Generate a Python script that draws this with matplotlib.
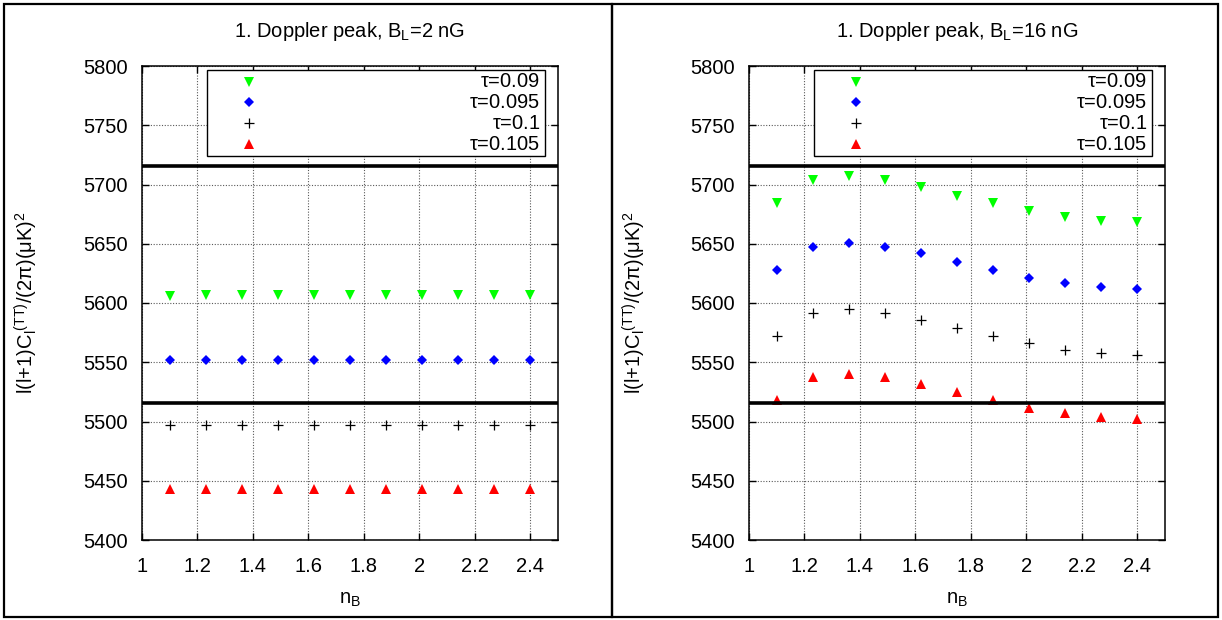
import numpy as np
import matplotlib.pyplot as plt
from matplotlib.patches import Rectangle

plt.rcParams['font.family'] = ['Liberation Sans', 'DejaVu Sans']
plt.rcParams['mathtext.default'] = 'regular'
plt.rcParams['ytick.major.pad'] = 10
plt.rcParams['xtick.major.pad'] = 12

# spectral index of the magnetic field
n_B = [1.1, 1.23, 1.36, 1.49, 1.62, 1.75, 1.88, 2.01, 2.14, 2.27, 2.4]

taus = ['0.09', '0.095', '0.1', '0.105']

# first Doppler peak height, B_L = 2 nG
peak_2nG = {
    '0.09':  [5606, 5607, 5607, 5607, 5607, 5607, 5607, 5607, 5607, 5607, 5607],
    '0.095': [5552, 5552, 5552, 5552, 5552, 5552, 5552, 5552, 5552, 5552, 5552],
    '0.1':   [5497, 5497, 5497, 5497, 5497, 5497, 5497, 5497, 5497, 5497, 5497],
    '0.105': [5443, 5443, 5443, 5443, 5443, 5443, 5443, 5443, 5443, 5443, 5443],
}

# first Doppler peak height, B_L = 16 nG
peak_16nG = {
    '0.09':  [5684, 5704, 5707.5, 5704, 5698, 5690.5, 5684, 5677.5, 5672.5, 5669, 5668],
    '0.095': [5628, 5647.5, 5651, 5647.5, 5642, 5635, 5628, 5621.5, 5616.5, 5613.5, 5611.5],
    '0.1':   [5572, 5591.5, 5595, 5591.5, 5585.5, 5578.5, 5572, 5566, 5560.5, 5558, 5556],
    '0.105': [5518, 5537.5, 5540.5, 5537.5, 5531.5, 5524.5, 5518, 5511.5, 5507, 5503.5, 5502],
}

# observational band on the peak height
band = [5516, 5716]

styles = {
    '0.09':  dict(marker='v', color='#00ff00', ms=6.5, mew=0),
    '0.095': dict(marker='D', color='#0000ff', ms=4.8, mew=0),
    '0.1':   dict(marker='+', color='black', ms=7.5, mew=0.9),
    '0.105': dict(marker='^', color='#ff0000', ms=6.5, mew=0),
}

ylab = r'l(l+1)C$_l$$^{(TT)}$/(2$\pi$)($\mu$K)$^2$'
fs = 14.5

fig = plt.figure(figsize=(12.22, 6.2), dpi=100)
W, H = 1222.0, 620.0


def panel(x0, frame_x0, frame_x1, data, title):
    ax = fig.add_axes([x0 / W, 80 / H, 416 / W, 474 / H])
    for t in taus:
        ax.plot(n_B, data[t], ls='none', zorder=3, **styles[t])
    for b in band:
        ax.axhline(b, color='black', lw=2.6, zorder=4)

    ax.set_xlim(1, 2.5)
    ax.set_ylim(5400, 5800)
    ax.set_xticks(np.arange(1, 2.41, 0.2))
    ax.set_xticklabels(['1', '1.2', '1.4', '1.6', '1.8', '2', '2.2', '2.4'])
    ax.set_yticks(np.arange(5400, 5801, 50))
    ax.tick_params(direction='in', top=True, right=True, length=5, width=1,
                   labelsize=fs, color='black')
    ax.grid(True, color='0.35', ls=(0, (1, 1.5)), lw=0.8)
    for s in ax.spines.values():
        s.set_linewidth(1.1)

    ax.set_xlabel(r'n$_B$', fontsize=fs, labelpad=10)
    ax.set_ylabel(ylab, fontsize=14.5)
    ax.yaxis.set_label_coords((40 + frame_x0 - 4 - x0) / 416, 0.5)
    ax.set_title(title, fontsize=fs, pad=21)

    # key box, drawn over the grid
    ax.add_patch(Rectangle((0.1555, 0.811), 0.8135, 0.181, transform=ax.transAxes,
                           facecolor='white', edgecolor='black', lw=1.0, zorder=5))
    rows = [0.967, 0.923, 0.879, 0.835]
    for t, yy in zip(taus, rows):
        ax.plot([0.257], [yy], ls='none', transform=ax.transAxes, zorder=6,
                clip_on=False, **styles[t])
        ax.text(0.957, yy, r'$\tau$=' + t, transform=ax.transAxes, ha='right',
                va='center', fontsize=fs, zorder=6)

    fig.add_artist(Rectangle((frame_x0 / W, 3 / H), (frame_x1 - frame_x0) / W,
                             613 / H, transform=fig.transFigure, fill=False,
                             edgecolor='black', lw=1.6))
    return ax


panel(142, 4, 612, peak_2nG, r'1. Doppler peak, B$_L$=2 nG')
panel(749, 612, 1218, peak_16nG, r'1. Doppler peak, B$_L$=16 nG')

fig.savefig('out.png', dpi=100)
